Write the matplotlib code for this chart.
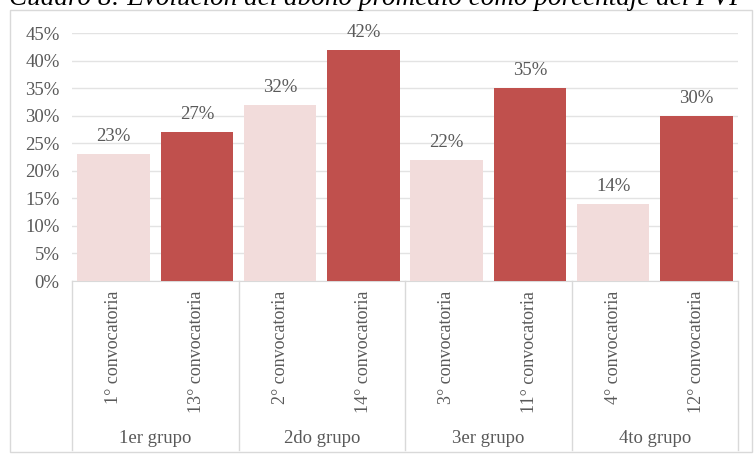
import matplotlib.pyplot as plt
from matplotlib.patches import Rectangle

convocatorias = ['1° convocatoria', '13° convocatoria', '2° convocatoria', '14° convocatoria',
                 '3° convocatoria', '11° convocatoria', '4° convocatoria', '12° convocatoria']
porcentajes = [23, 27, 32, 42, 22, 35, 14, 30]
grupos = ['1er grupo', '2do grupo', '3er grupo', '4to grupo']
colores = ['#F2DCDB', '#C0504D'] * 4

gris = '#595959'
plt.rcParams['font.family'] = ['Liberation Serif', 'DejaVu Serif']

fig = plt.figure(figsize=(7.55, 4.55), dpi=100)
ax = fig.add_axes([72 / 755, 174 / 455, 666 / 755, 248 / 455])

x = list(range(len(porcentajes)))
ax.bar(x, porcentajes, width=0.87, color=colores, zorder=3)
for xi, v in zip(x, porcentajes):
    ax.text(xi, v + 1.6, f'{v}%', ha='center', va='bottom', fontsize=13.5, color=gris)

ax.set_ylim(0, 45)
ax.set_xlim(-0.5, len(porcentajes) - 0.5)
ax.set_yticks(range(0, 46, 5))
ax.set_yticklabels([f'{t}%' for t in range(0, 46, 5)], fontsize=13.5, color=gris)
ax.yaxis.grid(True, color='#E3E3E3', linewidth=1, zorder=0)
ax.tick_params(axis='y', length=0, pad=9)
ax.tick_params(axis='x', length=0)
ax.set_xticks([])
for s in ['top', 'right', 'left']:
    ax.spines[s].set_visible(False)
ax.spines['bottom'].set_color('#D9D9D9')

# etiquetas de categoría y separadores de grupo
tr = ax.get_xaxis_transform()
for xi, nombre in zip(x, convocatorias):
    ax.text(xi, -0.04, nombre, rotation=90, ha='center', va='top',
            fontsize=13, color=gris, transform=tr)
for i, g in enumerate(grupos):
    ax.text(2 * i + 0.5, -0.635, g, ha='center', va='center',
            fontsize=13.5, color=gris, transform=tr)
for b in [-0.5, 1.5, 3.5, 5.5, 7.5]:
    ax.plot([b, b], [0, -0.68], color='#D9D9D9', linewidth=1,
            transform=tr, clip_on=False)

# marco exterior del gráfico
fig.patches.append(Rectangle((10 / 755, 3 / 455), 742 / 755, 442 / 455,
                             transform=fig.transFigure, fill=False,
                             edgecolor='#D9D9D9', linewidth=1))

fig.text(0.5, 1 - 5 / 455, 'Cuadro 8: Evolución del abono promedio como porcentaje del PVP',
         ha='center', va='baseline', fontsize=19.5, style='italic', color='black')

fig.savefig('out.png', dpi=100)
